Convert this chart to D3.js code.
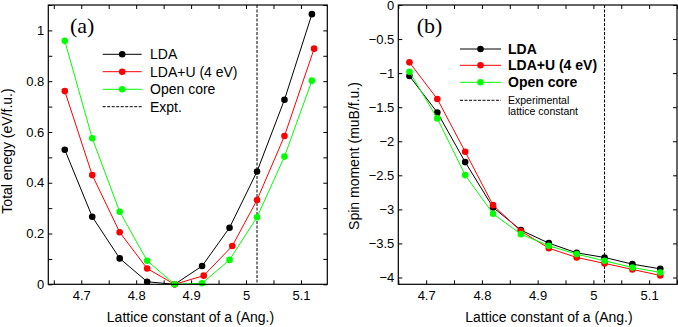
<!DOCTYPE html>
<html><head><meta charset="utf-8">
<script src="https://cdn.jsdelivr.net/npm/d3@7"></script>
<style>
html,body{margin:0;padding:0;background:#fff;}
svg{display:block;font-family:"Liberation Sans",Arial,sans-serif;}
</style></head>
<body>
<svg id="chart" width="678" height="327"></svg>
<script>
// ---- data ----
const latticeA = [4.67, 4.72, 4.77, 4.82, 4.87, 4.92, 4.97, 5.02, 5.07, 5.12];
const latticeAU = [4.67, 4.72, 4.77, 4.82, 4.87, 4.923, 4.975, 5.02, 5.07, 5.124];
const energyLDA  = [0.530, 0.266, 0.102, 0.010, 0.000, 0.072, 0.223, 0.444, 0.727, 1.064];
const energyLDAU = [0.761, 0.430, 0.205, 0.062, 0.000, 0.034, 0.151, 0.332, 0.584, 0.928];
const energyOpen = [0.959, 0.575, 0.286, 0.093, 0.000, 0.004, 0.096, 0.264, 0.503, 0.802];

const latticeB = [4.67, 4.72, 4.77, 4.82, 4.87, 4.92, 4.97, 5.02, 5.07, 5.12];
const spinLDA  = [-1.043, -1.577, -2.306, -2.972, -3.305, -3.496, -3.638, -3.706, -3.804, -3.873];
const spinLDAU = [-0.842, -1.380, -2.154, -2.938, -3.320, -3.570, -3.706, -3.793, -3.882, -3.970];
const spinOpen = [-0.979, -1.665, -2.497, -3.065, -3.364, -3.535, -3.657, -3.756, -3.853, -3.927];

const exptLattice = 5.02;
const seriesNames = ["LDA", "LDA+U (4 eV)", "Open core"];
const seriesColors = ["#000000", "#ff0000", "#00ff00"];

const xTicks = [4.65, 4.7, 4.75, 4.8, 4.85, 4.9, 4.95, 5.0, 5.05, 5.1, 5.15];
const xTickLabels = [4.7, 4.8, 4.9, 5.0, 5.1];
const yTicksA = [0, 0.1, 0.2, 0.3, 0.4, 0.5, 0.6, 0.7, 0.8, 0.9, 1.0, 1.1];
const yTickLabelsA = [0, 0.2, 0.4, 0.6, 0.8, 1.0];
const yTicksB = [0, -0.5, -1, -1.5, -2, -2.5, -3, -3.5, -4];
const yTickLabelsB = [0, -0.5, -1, -1.5, -2, -2.5, -3, -3.5, -4];

const svg = d3.select("#chart");
const fmt = v => (Math.round(v * 100) / 100).toString().replace("-", "\u2212");

function panel(cfg) {
  const x = d3.scaleLinear().domain(cfg.xDomain).range([cfg.left, cfg.right]);
  const y = d3.scaleLinear().domain(cfg.yDomain).range([cfg.bottom, cfg.top]);
  const g = svg.append("g");
  const has = (arr, v) => arr.some(a => Math.abs(a - v) < 1e-9);

  const axB = g.append("g").attr("transform", `translate(0,${cfg.bottom})`)
    .call(d3.axisBottom(x).tickValues(xTicks.filter(v => v >= cfg.xDomain[0] - 1e-9 && v <= cfg.xDomain[1] + 1e-9))
      .tickSize(-4).tickPadding(6.5).tickFormat(v => has(xTickLabels, v) ? fmt(v) : ""));
  const axT = g.append("g").attr("transform", `translate(0,${cfg.top})`)
    .call(d3.axisTop(x).tickValues(xTicks.filter(v => v >= cfg.xDomain[0] - 1e-9 && v <= cfg.xDomain[1] + 1e-9))
      .tickSize(-4).tickFormat(""));
  const axL = g.append("g").attr("transform", `translate(${cfg.left},0)`)
    .call(d3.axisLeft(y).tickValues(cfg.yTicks).tickSize(-4).tickPadding(4)
      .tickFormat(v => has(cfg.yTickLabels, v) ? fmt(v) : ""));
  const axR = g.append("g").attr("transform", `translate(${cfg.right},0)`)
    .call(d3.axisRight(y).tickValues(cfg.yTicks).tickSize(-4).tickFormat(""));
  [axB, axT, axL, axR].forEach(a => {
    a.select(".domain").remove();
    a.selectAll("line").attr("stroke", "#000").attr("stroke-width", 1);
    a.selectAll("text").attr("font-size", 13).attr("fill", "#000")
      .attr("font-family", '"Liberation Sans",Arial,sans-serif');
  });

  // experimental dashed line
  g.append("line").attr("x1", x(exptLattice)).attr("x2", x(exptLattice))
    .attr("y1", cfg.top).attr("y2", cfg.bottom)
    .attr("stroke", "#000").attr("stroke-width", 1).attr("stroke-dasharray", "3,1.5");

  cfg.series.forEach((s, i) => {
    const pts = s.xs.map((xv, j) => [xv, s.ys[j]]);
    g.append("path").datum(pts)
      .attr("d", d3.line().x(d => x(d[0])).y(d => y(d[1])))
      .attr("fill", "none").attr("stroke", seriesColors[i]).attr("stroke-width", 1);
    g.selectAll(null).data(pts).enter().append("circle")
      .attr("cx", d => x(d[0])).attr("cy", d => y(d[1])).attr("r", 3.3)
      .attr("fill", seriesColors[i]);
  });

  // frame
  g.append("rect").attr("x", cfg.left).attr("y", cfg.top)
    .attr("width", cfg.right - cfg.left).attr("height", cfg.bottom - cfg.top)
    .attr("fill", "none").attr("stroke", "#000").attr("stroke-width", 1.2);

  // panel label
  g.append("text").attr("x", cfg.tagX).attr("y", 33).text(cfg.tag)
    .attr("font-family", '"Liberation Serif","Times New Roman",serif').attr("font-size", 22);

  // axis titles
  g.append("text").attr("x", cfg.xTitleX).attr("y", 321.5).attr("text-anchor", "middle")
    .attr("font-size", 14).text("Lattice constant of a (Ang.)");
  g.append("text").attr("transform", `translate(${cfg.yTitleX},${cfg.yTitleY}) rotate(-90)`)
    .attr("text-anchor", "middle").attr("font-size", 14).text(cfg.yTitle);

  // legend
  const L = cfg.legend;
  seriesNames.forEach((name, i) => {
    const yy = L.rows[i];
    g.append("line").attr("x1", L.x1).attr("x2", L.x2).attr("y1", yy).attr("y2", yy)
      .attr("stroke", seriesColors[i]).attr("stroke-width", 1);
    g.append("circle").attr("cx", (L.x1 + L.x2) / 2).attr("cy", yy).attr("r", 3.3).attr("fill", seriesColors[i]);
    g.append("text").attr("x", L.tx).attr("y", yy).attr("dy", "0.36em")
      .attr("font-size", 14).attr("font-weight", L.bold ? "bold" : "normal").text(name);
  });
  const yd = L.rows[3];
  g.append("line").attr("x1", L.x1).attr("x2", L.x2).attr("y1", yd).attr("y2", yd)
    .attr("stroke", "#000").attr("stroke-width", 1).attr("stroke-dasharray", "3,1.5");
  L.exptText.forEach((t, k) => {
    g.append("text").attr("x", L.tx).attr("y", L.exptY[k])
      .attr("font-size", L.exptSize).text(t);
  });
}

panel({
  left: 48.3, right: 327.3, top: 5, bottom: 284.3,
  xDomain: [4.64, 5.148], yDomain: [0, 1.1],
  yTicks: yTicksA, yTickLabels: yTickLabelsA,
  series: [
    {xs: latticeA, ys: energyLDA},
    {xs: latticeAU, ys: energyLDAU},
    {xs: latticeA, ys: energyOpen}
  ],
  tag: "(a)", tagX: 70,
  xTitleX: 190.5, yTitleX: 11.7, yTitleY: 151, yTitle: "Total enegy (eV/f.u.)",
  legend: {x1: 102.7, x2: 141.7, tx: 150, rows: [54.3, 71.7, 89.3, 106.7], bold: false,
    exptText: ["Expt."], exptY: [111.5], exptSize: 14}
});

panel({
  left: 398.3, right: 677, top: 5, bottom: 284.3,
  xDomain: [4.65, 5.15], yDomain: [-4.1, 0],
  yTicks: yTicksB, yTickLabels: yTickLabelsB,
  series: [
    {xs: latticeB, ys: spinLDA},
    {xs: latticeB, ys: spinLDAU},
    {xs: latticeB, ys: spinOpen}
  ],
  tag: "(b)", tagX: 416.7,
  xTitleX: 549, yTitleX: 359, yTitleY: 156, yTitle: "Spin moment (muB/f.u.)",
  legend: {x1: 460, x2: 501, tx: 508, rows: [49, 65.3, 82.3, 100.3], bold: true,
    exptText: ["Experimental", "lattice constant"], exptY: [104, 114.5], exptSize: 10.5}
});
</script>
</body></html>
